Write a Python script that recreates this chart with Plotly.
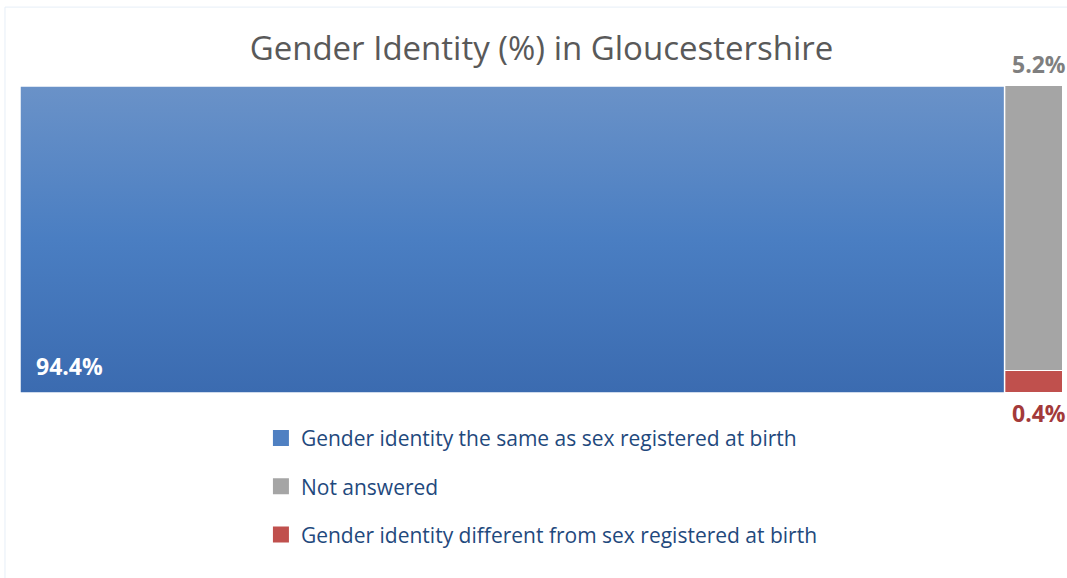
import plotly.graph_objects as go

# shares (%)
categories = [
    "Gender identity the same as sex registered at birth",
    "Not answered",
    "Gender identity different from sex registered at birth",
]
shares = [94.4, 5.2, 0.4]
labels = ["94.4%", "5.2%", "0.4%"]
colors = ["#4f80c2", "#a5a5a5", "#c0504d"]

same, not_ans, diff = shares
rest = not_ans + diff

fig = go.Figure()

# big block on the left, with a vertical gradient like the original
fig.add_trace(go.Scatter(
    x=[0, same, same, 0, 0], y=[0, 0, 100, 100, 0],
    mode="lines", fill="toself",
    line=dict(color="white", width=1.5),
    fillgradient=dict(type="vertical",
                      colorscale=[[0, "#3b6bb0"], [0.5, "#4a7ec2"], [1, "#6a92c8"]]),
    showlegend=False, hoverinfo="skip",
))
# right column split by share: red at bottom, grey on top
fig.add_trace(go.Bar(
    x=[same + rest / 2], y=[diff / rest * 100], width=[rest],
    marker=dict(color=colors[2], line=dict(color="white", width=1.5)),
    showlegend=False, hoverinfo="skip",
))
fig.add_trace(go.Bar(
    x=[same + rest / 2], y=[not_ans / rest * 100], width=[rest],
    marker=dict(color=colors[1], line=dict(color="white", width=1.5)),
    showlegend=False, hoverinfo="skip",
))

# legend-only entries with square markers
for i, (name, col) in enumerate(zip(categories, colors)):
    fig.add_trace(go.Scatter(
        x=[None], y=[None], mode="markers", name=name,
        marker=dict(symbol="square", size=17, color=col),
        legendgroup=str(i), legendrank=i + 1,
    ))

fig.add_annotation(x=0, y=0, text=f"<b>{labels[0]}</b>", showarrow=False,
                   xanchor="left", yanchor="bottom", xshift=14, yshift=9,
                   font=dict(color="white", size=23))
fig.add_annotation(x=100, y=100, text=f"<b>{labels[1]}</b>", showarrow=False,
                   xanchor="right", yanchor="bottom", xshift=5, yshift=4,
                   font=dict(color="#7f7f7f", size=23))
fig.add_annotation(x=100, y=0, text=f"<b>{labels[2]}</b>", showarrow=False,
                   xanchor="right", yanchor="top", xshift=5, yshift=-2,
                   font=dict(color="#a33a3a", size=23))

# faint outer frame
fig.add_shape(type="rect", xref="paper", yref="paper",
              x0=-0.0144, x1=1.02, y0=-0.8, y1=1.257,
              line=dict(color="#e6eef7", width=1))

fig.update_layout(
    width=1067, height=578,
    margin=dict(l=20, r=4, t=86, b=185),
    paper_bgcolor="white", plot_bgcolor="white",
    barmode="stack", bargap=0,
    font=dict(family="Open Sans", size=21, color="#1f497d"),
    title=dict(text="Gender Identity (%) in Gloucestershire",
               xref="paper", x=0.5, xanchor="center", y=0.917, yanchor="middle",
               font=dict(size=33, color="#595959")),
    xaxis=dict(range=[0, 100], visible=False, fixedrange=True),
    yaxis=dict(range=[0, 100], visible=False, fixedrange=True),
    legend=dict(orientation="v", x=0.231, xanchor="left", y=-0.081, yanchor="top",
                tracegroupgap=18, itemsizing="trace",
                font=dict(size=21, color="#1f497d")),
)

# drop the page margin so the figure fills the window exactly
fig.write_html("out.html", config={"displayModeBar": False},
               post_script="document.body.style.margin='0';"
                           "document.body.style.overflow='hidden';")
